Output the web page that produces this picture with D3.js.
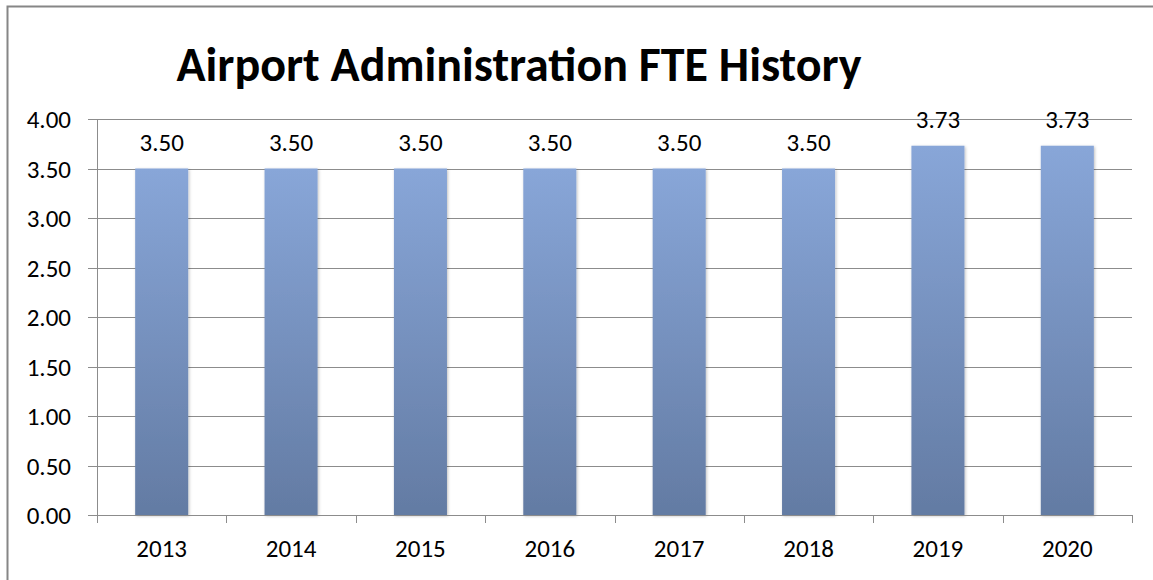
<!doctype html>
<html lang="en">
<head>
<meta charset="UTF-8">
<title>Airport Administration FTE History</title>
<style>
  body { margin: 0; background: #fff; }
  svg text { font-family: Carlito, "Open Sans", "Noto Sans", sans-serif; fill: #000; }
</style>
</head>
<body>
<div id="chart"></div>
<script src="https://d3js.org/d3.v7.min.js"></script>
<script>
const years = ['2013', '2014', '2015', '2016', '2017', '2018', '2019', '2020']
const fte = [3.50, 3.50, 3.50, 3.50, 3.50, 3.50, 3.73, 3.73]
const yTicks = [0, 0.5, 1, 1.5, 2, 2.5, 3, 3.5, 4]

const width = 1153
const height = 580
const margin = {top: 119, right: 21, bottom: 65, left: 97}

const svg = d3.select('#chart').append('svg')
  .attr('width', width)
  .attr('height', height)

// outer chart border
svg.append('rect')
  .attr('x', 7.5).attr('y', 6.5)
  .attr('width', width + 10).attr('height', height + 10)
  .attr('fill', 'none').attr('stroke', '#868686').attr('stroke-width', 2)

const defs = svg.append('defs')
const grad = defs.append('linearGradient').attr('id', 'barGrad')
  .attr('x1', 0).attr('y1', 0).attr('x2', 0).attr('y2', 1)
grad.append('stop').attr('offset', '0%').attr('stop-color', '#88a6d8')
grad.append('stop').attr('offset', '100%').attr('stop-color', '#637ba3')

const shadow = defs.append('filter').attr('id', 'shadow')
  .attr('x', '-20%').attr('y', '-5%').attr('width', '140%').attr('height', '115%')
shadow.append('feDropShadow').attr('dx', 1).attr('dy', 1).attr('stdDeviation', 1.5)
  .attr('flood-color', '#000').attr('flood-opacity', 0.25)

svg.append('text')
  .attr('x', 519).attr('y', 81)
  .attr('text-anchor', 'middle')
  .style('font-size', '48px').style('font-weight', 'bold')
  .text('Airport Administration FTE History')

const innerW = width - margin.left - margin.right
const innerH = height - margin.top - margin.bottom
const g = svg.append('g').attr('transform', `translate(${margin.left},${margin.top})`)

const x = d3.scaleBand().domain(years).range([0, innerW]).paddingInner(0.59).paddingOuter(0.295)
const xOuter = d3.scaleBand().domain(years).range([0, innerW])
const y = d3.scaleLinear().domain([0, 4]).range([innerH, 0])

// gridlines
g.append('g')
  .selectAll('line')
  .data(yTicks)
  .join('line')
  .attr('x1', -9).attr('x2', innerW)
  .attr('y1', d => Math.round(y(d)) + 0.5).attr('y2', d => Math.round(y(d)) + 0.5)
  .attr('stroke', '#8c8c8c').attr('stroke-width', 1)

// y axis
const yAxis = g.append('g')
  .call(d3.axisLeft(y).tickValues(yTicks).tickFormat(d3.format('.2f')).tickSize(0).tickPadding(26))
yAxis.select('.domain').attr('stroke', '#8c8c8c').attr('d', `M0.5,0V${innerH}`)
yAxis.selectAll('text').style('font-size', '25px').attr('dy', '0.34em')

// bars
g.append('g')
  .selectAll('rect')
  .data(fte)
  .join('rect')
  .attr('x', (d, i) => x(years[i]))
  .attr('y', d => y(d))
  .attr('width', x.bandwidth())
  .attr('height', d => innerH - y(d))
  .attr('fill', 'url(#barGrad)')
  .attr('filter', 'url(#shadow)')

// value labels
g.append('g')
  .selectAll('text')
  .data(fte)
  .join('text')
  .attr('x', (d, i) => x(years[i]) + x.bandwidth() / 2)
  .attr('y', d => y(d) - 18)
  .attr('text-anchor', 'middle')
  .style('font-size', '25px')
  .text(d => d.toFixed(2))

// x axis
const xAxisG = g.append('g').attr('transform', `translate(0,${innerH})`)
xAxisG.append('line')
  .attr('x1', 0).attr('x2', innerW)
  .attr('y1', 0.5).attr('y2', 0.5)
  .attr('stroke', '#8c8c8c')
xAxisG.selectAll('.tick')
  .data(years.concat(['end']))
  .join('line')
  .attr('x1', (d, i) => Math.round(i * xOuter.step()) + 0.5)
  .attr('x2', (d, i) => Math.round(i * xOuter.step()) + 0.5)
  .attr('y1', 0).attr('y2', 8)
  .attr('stroke', '#8c8c8c')
xAxisG.selectAll('text')
  .data(years)
  .join('text')
  .attr('x', d => xOuter(d) + xOuter.bandwidth() / 2)
  .attr('y', 42)
  .attr('text-anchor', 'middle')
  .style('font-size', '25px')
  .text(d => d)
</script>
</body>
</html>
